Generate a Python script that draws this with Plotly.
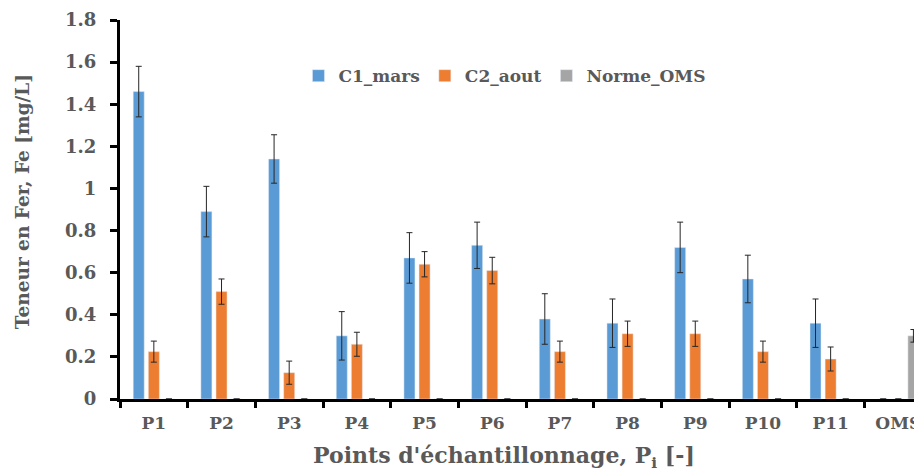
import plotly.graph_objects as go

categories = ["P1", "P2", "P3", "P4", "P5", "P6", "P7", "P8", "P9", "P10", "P11", "OMS"]
c1_mars = [1.46, 0.89, 1.14, 0.30, 0.67, 0.73, 0.38, 0.36, 0.72, 0.57, 0.36, 0]
c1_err = [0.12, 0.12, 0.115, 0.115, 0.12, 0.11, 0.12, 0.115, 0.12, 0.113, 0.115, 0]
c2_aout = [0.225, 0.51, 0.125, 0.26, 0.64, 0.61, 0.225, 0.31, 0.31, 0.225, 0.19, 0]
c2_err = [0.05, 0.06, 0.055, 0.057, 0.06, 0.063, 0.05, 0.06, 0.06, 0.05, 0.057, 0]
norme_oms = [0, 0, 0, 0, 0, 0, 0, 0, 0, 0, 0, 0.30]
oms_err = [0, 0, 0, 0, 0, 0, 0, 0, 0, 0, 0, 0.03]
x_title = "Points d'échantillonnage, P<sub>i</sub> [-]"
y_title = "Teneur en Fer, Fe [mg/L]"

FONT = "DejaVu Serif"
TXT = "#595959"

def eb(arr):
    return dict(type="data", array=arr, visible=True, color="#262626", thickness=1, width=3)

fig = go.Figure()
fig.add_bar(name="C1_mars", x=categories, y=c1_mars, marker_color="#5B9BD5", error_y=eb(c1_err))
fig.add_bar(name="C2_aout", x=categories, y=c2_aout, marker_color="#ED7D31", error_y=eb(c2_err))
fig.add_bar(name="Norme_OMS", x=categories, y=norme_oms, marker_color="#A5A5A5", error_y=eb(oms_err))

# page body has an 8px margin: figure is sized/offset to compensate
fig.update_layout(
    width=914, height=465,
    margin=dict(l=112, r=0, t=12, b=74),
    paper_bgcolor="white", plot_bgcolor="white",
    barmode="group", bargap=0.33, bargroupgap=0.27,
    font=dict(family=FONT, color=TXT),
    legend=dict(orientation="h", x=0.48, y=0.852, xanchor="center", yanchor="middle",
                font=dict(family=FONT, size=17, color=TXT, weight="bold"),
                itemwidth=30, bgcolor="rgba(0,0,0,0)"),
    xaxis=dict(
        type="category", range=[-0.5, 11.35],
        showline=True, linecolor="black", linewidth=3,
        ticks="outside", tickson="boundaries", ticklen=6, tickwidth=3, tickcolor="black",
        ticklabelstandoff=7,
        tickfont=dict(family=FONT, size=17, color=TXT, weight="bold"),
        showgrid=False,
    ),
    yaxis=dict(
        range=[0, 1.8], dtick=0.2, tick0=0,
        showline=True, linecolor="black", linewidth=3,
        ticks="outside", ticklen=7, tickwidth=3, tickcolor="black",
        ticklabelstandoff=10,
        tickfont=dict(family=FONT, size=18, color=TXT, weight="bold"),
        showgrid=False, zeroline=False,
    ),
    annotations=[
        dict(text=x_title, xref="paper", yref="paper", x=0.479, y=-0.152,
             xanchor="center", yanchor="middle", showarrow=False,
             font=dict(family=FONT, size=22, color=TXT, weight="bold")),
        dict(text=y_title, xref="paper", yref="paper", x=-0.1222, y=0.522,
             xanchor="center", yanchor="middle", showarrow=False, textangle=-90,
             font=dict(family=FONT, size=18.5, color=TXT, weight="bold")),
    ],
)

fig.write_html("out.html")
